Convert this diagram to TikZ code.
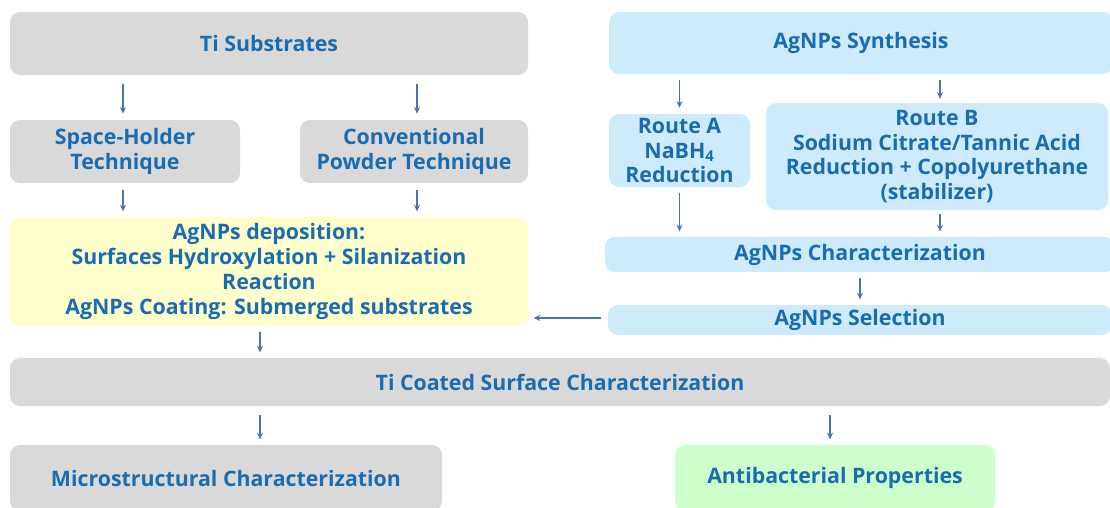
\documentclass[tikz,border=0pt]{standalone}
\usepackage{fontspec}
\setmainfont{Open Sans}
\usetikzlibrary{arrows.meta, positioning}
\definecolor{boxgray}{HTML}{D9D9D9}
\definecolor{boxblue}{HTML}{CDEBFA}
\definecolor{boxyellow}{HTML}{FFFFCC}
\definecolor{boxgreen}{HTML}{CCFFCC}
\definecolor{txtblue}{HTML}{1A6CB2}
\definecolor{arrblue}{HTML}{4A72BE}

\begin{document}
\begin{tikzpicture}[x=0.75pt, y=-0.75pt,
    box/.style={rounded corners=7.5pt, inner sep=0pt, align=center, text=txtblue,
        font=\fontsize{16pt}{18.6pt}\selectfont\bfseries},
    graybox/.style={box, fill=boxgray},
    bluebox/.style={box, fill=boxblue},
    arr/.style={draw=arrblue, line width=1pt, -{Stealth[length=5pt, width=4.5pt]}}]
    \useasboundingbox (0,0) rectangle (1110,507);

    \node[graybox, minimum width=388.5pt, minimum height=47.25pt] (tisub) at (269,43.5) {Ti Substrates};
    \node[graybox, minimum width=172.5pt, minimum height=47.25pt] (space) at (125,151.5) {Space-Holder\\Technique};
    \node[graybox, minimum width=171pt, minimum height=47.25pt] (conv) at (414,151.5) {Conventional\\Powder Technique};
    \node[box, fill=boxyellow, minimum width=388.5pt, minimum height=81.75pt] (depo) at (269,271.5)
        {AgNPs deposition:\\Surfaces Hydroxylation + Silanization\\Reaction\\AgNPs Coating: Submerged substrates};

    \node[bluebox, minimum width=378pt, minimum height=46.5pt] (synth) at (861,43) {AgNPs Synthesis};
    \node[bluebox, minimum width=105.75pt, minimum height=54.75pt] (routeA) at (679.5,150.5) {Route A\\NaBH\textsubscript{4}\\Reduction};
    \node[bluebox, minimum width=256.5pt, minimum height=80.25pt] (routeB) at (937,156.5)
        {Route B\\Sodium Citrate/Tannic Acid\\Reduction + Copolyurethane\\(stabilizer)};
    \node[bluebox, minimum width=382.5pt, minimum height=26.25pt] (char) at (860,254.5) {AgNPs Characterization};
    \node[bluebox, minimum width=378pt, minimum height=22.5pt] (sel) at (860,320) {AgNPs Selection};

    \node[graybox, minimum width=825pt, minimum height=36pt] (ticoat) at (560,382) {Ti Coated Surface Characterization};
    \node[graybox, minimum width=324pt, minimum height=49.5pt] (micro) at (226,478) {Microstructural Characterization};
    \node[box, fill=boxgreen, minimum width=240pt, minimum height=49.5pt] (anti) at (835,478) {Antibacterial Properties};

    \draw[arr, shorten <=6.5pt, shorten >=4.5pt] ([xshift=-1.5pt]tisub.south -| space.north) -- ([xshift=-1.5pt]space.north);
    \draw[arr, shorten <=6.5pt, shorten >=4.5pt] ([xshift=2.25pt]tisub.south -| conv.north) -- ([xshift=2.25pt]conv.north);
    \draw[arr, shorten <=5pt, shorten >=4pt] ([xshift=-1.5pt]space.south) -- ([xshift=-1.5pt]space.south |- depo.north);
    \draw[arr, shorten <=5pt, shorten >=4pt] ([xshift=2.25pt]conv.south) -- ([xshift=2.25pt]conv.south |- depo.north);

    \draw[arr, shorten <=4.5pt, shorten >=4.5pt] (synth.south -| routeA.north) -- (routeA.north);
    \draw[arr, shorten <=4.5pt, shorten >=3pt] ([xshift=2.25pt]synth.south -| routeB.north) -- ([xshift=2.25pt]routeB.north);
    \draw[arr, shorten <=4pt, shorten >=4pt] (routeA.south) -- (routeA.south |- char.north);
    \draw[arr, shorten <=2.5pt, shorten >=4pt] ([xshift=2.25pt]routeB.south) -- ([xshift=2.25pt]routeB.south |- char.north);
    \draw[arr, shorten <=4pt, shorten >=4pt] (char.south) -- (sel.north);
    \draw[arr, shorten <=5pt, shorten >=4pt] ([yshift=1.5pt]sel.west) -- ([yshift=1.5pt]sel.west -| depo.east);

    \draw[arr, shorten <=4.5pt, shorten >=4pt] ([xshift=-6.75pt]depo.south) -- ([xshift=-6.75pt]depo.south |- ticoat.north);
    \draw[arr, shorten <=6.5pt, shorten >=4pt] ([xshift=25.5pt]micro.north |- ticoat.south) -- ([xshift=25.5pt]micro.north);
    \draw[arr, shorten <=6.5pt, shorten >=4pt] ([xshift=-3.75pt]anti.north |- ticoat.south) -- ([xshift=-3.75pt]anti.north);
\end{tikzpicture}
\end{document}
